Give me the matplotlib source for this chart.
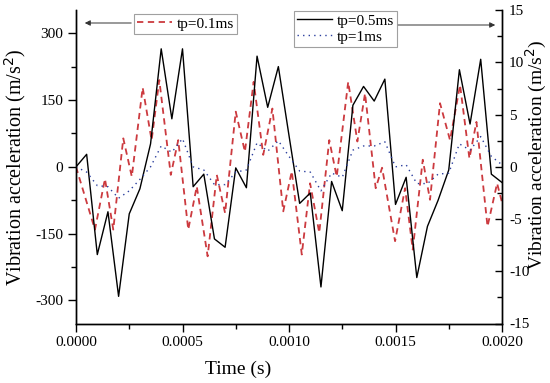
import numpy as np
import matplotlib.pyplot as plt
from matplotlib.ticker import MultipleLocator, FormatStrFormatter
from matplotlib.lines import Line2D

plt.rcParams['font.family'] = ['Liberation Serif', 'DejaVu Serif']
plt.rcParams['axes.unicode_minus'] = False

# tp=0.1ms, left axis (m/s^2)
t_01 = [0.0, 0.000089, 0.000136, 0.000175, 0.000222, 0.000262, 0.000313, 0.000355,
        0.000391, 0.000445, 0.000480, 0.000527, 0.000567, 0.000618, 0.000661, 0.000700,
        0.000750, 0.000793, 0.000834, 0.000879, 0.000922, 0.000973, 0.001013, 0.001060,
        0.001099, 0.001142, 0.001189, 0.001224, 0.001278, 0.001321, 0.001357, 0.001407,
        0.001437, 0.001498, 0.001545, 0.001581, 0.001628, 0.001662, 0.001709, 0.001756,
        0.001803, 0.001847, 0.001880, 0.001932, 0.001977, 0.002]
a_01 = [0, -141, -27, -141, 64, -22, 178, 60,
        195, -18, 60, -141, -44, -201, -18, -104,
        124, 34, 191, 27, 131, -100, -10, -197,
        -37, -148, 60, -22, 191, 57, 165, -48,
        -2, -167, -48, -186, 16, -74, 143, 60,
        184, 19, 101, -134, -37, -80]

# tp=0.5ms and tp=1ms, right axis, sampled every 0.05 ms
t_grid = np.linspace(0, 0.002, 41)
a_05 = [0, 1.2, -8.4, -4.3, -12.4, -4.5, -2.1, 2.2, 11.3, 4.6,
        11.3, -1.9, -0.7, -6.9, -7.7, -0.1, -2.0, 10.6, 5.7, 9.6,
        3.0, -3.5, -2.5, -11.5, -1.4, -4.2, 5.9, 7.7, 6.3, 8.4,
        -3.6, -1.0, -10.6, -5.7, -3.2, -0.3, 9.3, 4.1, 10.3, -0.7, -1.5]
a_1 = [0, -0.5, -1.8, -1.9, -3.0, -2.3, -1.2, 0.0, 2.0, 1.4,
       2.7, 0.0, -0.3, -1.7, -1.7, -0.5, -0.3, 2.3, 1.5, 2.5,
       1.0, -0.4, -0.5, -2.3, -0.6, -1.0, 1.6, 2.0, 2.0, 2.4,
       0.0, 0.2, -1.6, -1.6, -0.7, -0.6, 2.2, 1.6, 2.9, 1.0, 0.2]

W, H = 550, 383
fig = plt.figure(figsize=(5.5, 3.83), dpi=100)
ax = fig.add_axes([76 / W, 1 - 323.5 / H, 426 / W, 313.3 / H])
ax2 = ax.twinx()

ax.plot(t_01, a_01, color='#cc3a3f', lw=1.3, ls=(0, (3.5, 2.5)))
ax2.plot(t_grid, a_05, color='black', lw=1.0)
ax2.plot(t_grid, a_1, color='#2b3f9e', lw=1.0, ls=(0, (1, 3)))

ax.set_xlim(0, 0.002)
ax.set_ylim(-352, 352)
ax2.set_ylim(-15, 15)

ax.xaxis.set_major_locator(MultipleLocator(0.0005))
ax.xaxis.set_minor_locator(MultipleLocator(0.00025))
ax.xaxis.set_major_formatter(FormatStrFormatter('%.4f'))
ax.yaxis.set_major_locator(MultipleLocator(150))
ax.yaxis.set_minor_locator(MultipleLocator(75))
ax2.yaxis.set_major_locator(MultipleLocator(5))
ax2.yaxis.set_minor_locator(MultipleLocator(2.5))

for a in (ax, ax2):
    a.spines['top'].set_visible(False)
    for s in a.spines.values():
        s.set_linewidth(1.0)
ax.tick_params(axis='both', which='major', direction='out', length=6, width=1,
               labelsize=11, pad=3)
ax.tick_params(axis='both', which='minor', direction='out', length=3.5, width=1)
ax2.tick_params(axis='y', which='major', direction='in', length=5, width=1,
                labelsize=11, pad=5)
ax2.tick_params(axis='y', which='minor', direction='in', length=3.5, width=1)

ax.set_xlabel('Time (s)', fontsize=14)
ax.xaxis.set_label_coords(0.38, -0.12)
ax.set_ylabel('Vibration acceleration (m/s$^2$)', fontsize=14.5)
ax.yaxis.set_label_coords(-0.113, 0.5)
ax2.set_ylabel('Vibration acceleration (m/s$^2$)', fontsize=14)
ax2.yaxis.set_label_coords(1.052, 0.54)

# legends
h01 = [Line2D([], [], color='#cc3a3f', lw=1.3, ls=(0, (3.5, 2.5)))]
leg1 = ax2.legend(h01, ['tp=0.1ms'], loc='upper left',
                  bbox_to_anchor=(134 / W, 1 - 14 / H), bbox_transform=fig.transFigure,
                  fontsize=11, frameon=True, fancybox=False, borderaxespad=0,
                  handlelength=2.3, handletextpad=0.3, borderpad=0.2)
leg1.get_frame().set_edgecolor('#888888')
leg1.get_frame().set_linewidth(0.8)
ax2.add_artist(leg1)

h2 = [Line2D([], [], color='black', lw=1.0),
      Line2D([], [], color='#2b3f9e', lw=1.0, ls=(0, (1, 3)))]
leg2 = ax2.legend(h2, ['tp=0.5ms', 'tp=1ms'], loc='upper left',
                  bbox_to_anchor=(294 / W, 1 - 11 / H), bbox_transform=fig.transFigure,
                  fontsize=11, frameon=True, fancybox=False, borderaxespad=0,
                  handlelength=2.3, handletextpad=0.3, borderpad=0.2, labelspacing=0.15)
leg2.get_frame().set_edgecolor('#888888')
leg2.get_frame().set_linewidth(0.8)

# arrows pointing to the axis each series uses
arrow = dict(arrowstyle='-|>', color='#333333', lw=0.7, mutation_scale=8)
ax2.annotate('', xy=(82 / W, 1 - 23 / H), xytext=(134 / W, 1 - 23 / H),
             xycoords='figure fraction', arrowprops=arrow)
ax2.annotate('', xy=(498 / W, 1 - 25 / H), xytext=(395 / W, 1 - 25 / H),
             xycoords='figure fraction', arrowprops=arrow)

fig.savefig('out.png', dpi=100)
